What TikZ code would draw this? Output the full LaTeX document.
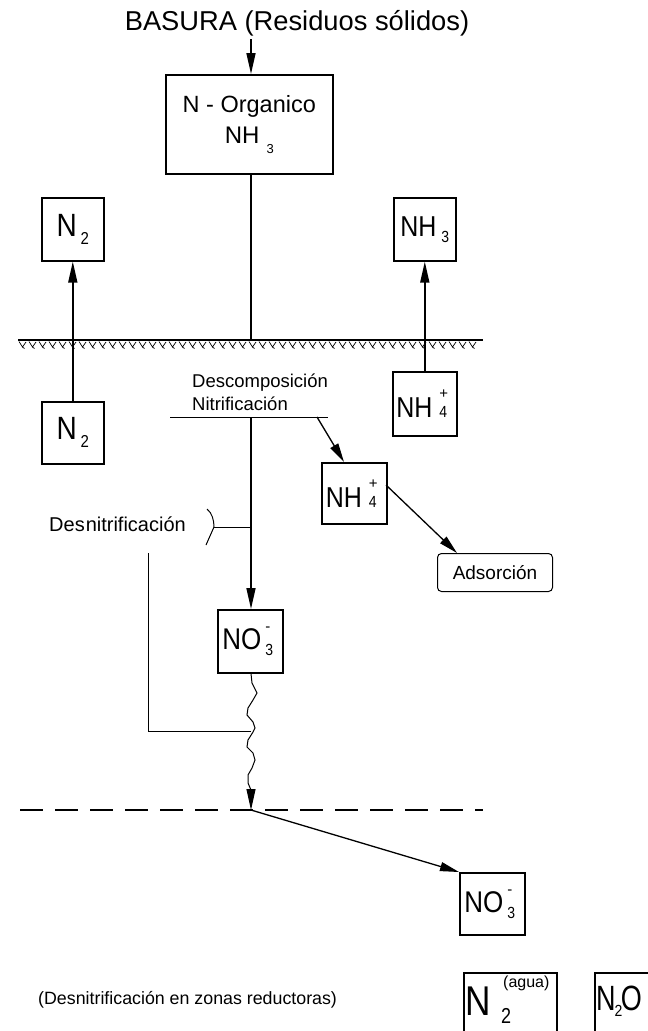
\documentclass[tikz,border=0pt]{standalone}
\usepackage{graphicx}
\usepackage{fontspec}
\setmainfont{Liberation Sans}
\usetikzlibrary{arrows.meta}
\newcommand{\fs}[1]{\fontsize{#1}{#1}\selectfont}
\newcommand{\tl}[2][1.15]{\scalebox{1}[#1]{#2}}
\newcommand{\pmstack}[4]{\rlap{\raisebox{#3}{\fs{15}#1}}\raisebox{#4}{\tl{\fs{14}#2}}}
\tikzset{
  box/.style={draw, line width=1.6pt, inner sep=0pt, anchor=north west},
  arr/.style={-{Triangle[length=21pt,width=9pt]}, line width=1.6pt},
  thinarr/.style={-{Triangle[length=19pt,width=9pt]}, line width=1.3pt},
  thin/.style={line width=1pt},
  lbl/.style={inner sep=0pt, anchor=base west}
}
\begin{document}
\begin{tikzpicture}[x=1pt,y=-1pt]
\useasboundingbox (0,0) rectangle (648,1031);
\clip (0,0) rectangle (648,1031);

% title
\node[inner sep=0pt] (title) at (297,23) {\fs{27.3}BASURA (Residuos sólidos)};
\coordinate (tin) at (251,39);

% organic box
\node[box, minimum width=167pt, minimum height=99pt, align=center] (org) at (165,74)
  {\fs{23.5}N - Organico\\[9pt]\fs{24}NH\kern7pt\raisebox{-10pt}{\fs{13}3}};
\draw[arr] (tin) -- (org.north -| tin);

% ground
\coordinate (gl) at (18,340);
\coordinate (gr) at (483,340);
\draw[line width=2pt] (gl) -- (gr);
\foreach \x in {19,29,...,475}{
  \draw[line width=0.7pt] (\x,341.5) -- (\x+3.5,347) -- (\x+7,342);
  \draw[line width=0.7pt] (\x+3.5,347) -- (\x+5.5,348.5);
}
\coordinate (gmid) at (251,340);
\draw[line width=1.8pt] (org.south -| gmid) -- (gmid);

% left N2 boxes
\node[box, minimum width=62pt, minimum height=63pt] (n2top) at (41,197)
  {\tl{\fs{28}N}\kern4pt\raisebox{-8pt}{\tl{\fs{15}2}}};
\node[box, minimum width=62pt, minimum height=62pt] (n2low) at (41,401)
  {\tl{\fs{28}N}\kern4pt\raisebox{-8pt}{\tl{\fs{15}2}}};
\draw[arr] (n2low.north) -- (n2top.south);

% right NH3 / NH4+
\node[box, minimum width=62pt, minimum height=63pt] (nh3) at (393,197)
  {\tl{\fs{25}NH}\kern5pt\raisebox{-6pt}{\tl{\fs{14}3}}};
\node[box, minimum width=64pt, minimum height=64pt] (nh4a) at (392,371)
  {\tl{\fs{25}NH}\kern7pt\pmstack{+}{4}{19pt}{0pt}\kern6pt};
\draw[arr] (nh4a.north) -- (nh3.south);

% decomposition
\node[lbl] (desc) at (192,387) {\fs{18.5}Descomposición};
\node[lbl] (nitr) at (192,410) {\fs{18.5}Nitrificación};
\coordinate (hl) at (170,417);
\coordinate (hr) at (328,417);
\draw[thin] (hl) -- (hr);
\coordinate (vtop) at (251,417);
\coordinate (dtop) at (317,417);

% middle NH4+
\node[box, minimum width=65pt, minimum height=61pt] (nh4b) at (321,462)
  {\tl{\fs{25}NH}\kern7pt\pmstack{+}{4}{19pt}{0pt}\kern6pt};
\draw[thinarr] (dtop) -- (344,462);

% adsorcion
\node[draw, line width=1pt, rounded corners=4pt, inner sep=0pt, anchor=north west,
  minimum width=115pt, minimum height=38pt] (ads) at (437,553) {\fs{19}Adsorción};
\coordinate (nh4r) at (386,485);
\draw[thinarr] (nh4r) -- (457,553);

% NO3 upper
\node[box, minimum width=65pt, minimum height=63pt] (no3a) at (217,609)
  {\tl{\fs{26}NO}\kern4pt\pmstack{-}{3}{18pt}{-6pt}\kern5pt};
\draw[arr] (vtop) -- (no3a.north -| vtop);

% desnitrificacion
\node[lbl] (desn) at (49,531) {\fs{20}Des\kern1pt nitrificación};
\coordinate (btip) at (214,527);
\draw[thin] (207,509) .. controls (212,513) and (214,520) .. (btip) -- (206,545);
\coordinate (bj) at (251,527);
\draw[thin] (btip) -- (bj);
\coordinate (lb1) at (148,553);
\coordinate (lb2) at (148,731);
\coordinate (lb3) at (251,731);
\draw[thin] (lb1) -- (lb2) -- (lb3);

% wiggle
\coordinate (wtip) at (251,810);
\draw[line width=1pt] (no3a.south -| wtip) -- (252,683) -- (257,693) -- (253,700) -- (248,708) -- (247,715)
  -- (253,722) -- (255,728) -- (253,732) -- (248,740) -- (247,747) -- (253,753) -- (255,760)
  -- (252,768) -- (248,775) -- (248,783) -- (251,790);
\draw[-{Triangle[length=21pt,width=9pt]}, line width=1pt] (251,789) -- (wtip);

% dashed water table
\coordinate (dl) at (20,810);
\coordinate (dr) at (483,810);
\draw[line width=1.3pt, dash pattern=on 23pt off 12pt] (dl) -- (dr);

% lower NO3
\node[box, minimum width=65pt, minimum height=62pt] (no3b) at (459,872)
  {\tl{\fs{26}NO}\kern4pt\pmstack{-}{3}{18pt}{-6pt}\kern5pt};
\draw[thinarr] (wtip) -- (no3b.north west);

% bottom
\node[lbl] (bot) at (38,1004) {\fs{17.8}(Desnitrificación en zonas reductoras)};
\node[box, minimum width=93pt, minimum height=80pt] (n2w) at (463,972) {};
\node[lbl] (n2wN) at (465,1015) {\scalebox{1.1}[1.3]{\fs{32}N}};
\node[lbl] (n2w2) at (501,1023) {\tl[1.2]{\fs{18}2}};
\node[lbl] (n2wag) at (503,987) {\fs{16}(agua)};
\node[box, minimum width=70pt, minimum height=80pt] (n2o) at (594,972) {};
\node[lbl] (n2oT) at (596,1010) {\tl[1.3]{\fs{27}N}\kern-1pt\raisebox{-6pt}{\tl{\fs{14}2}}\kern-1.5pt\tl[1.3]{\fs{27}O}};
\end{tikzpicture}
\end{document}
